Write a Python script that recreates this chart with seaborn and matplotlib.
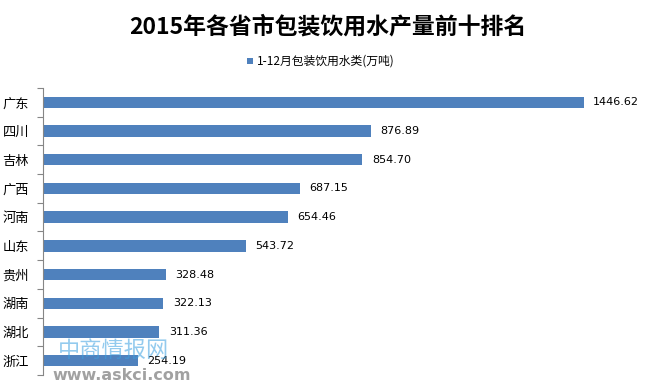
import matplotlib
matplotlib.use("Agg")
import matplotlib.pyplot as plt
import seaborn as sns
import pandas as pd

provinces = ["广东", "四川", "吉林", "广西", "河南", "山东", "贵州", "湖南", "湖北", "浙江"]
values = [1446.62, 876.89, 854.70, 687.15, 654.46, 543.72, 328.48, 322.13, 311.36, 254.19]
series_name = "1-12月包装饮用水类(万吨)"
title = "2015年各省市包装饮用水产量前十排名"

sns.set_theme(style="white")
plt.rcParams['font.family'] = ['Noto Sans CJK SC', 'DejaVu Sans']
plt.rcParams['text.color'] = "#000000"

df = pd.DataFrame({"province": provinces, "value": values, "series": series_name})

fig = plt.figure(figsize=(6.56, 3.85), dpi=100)
ax = fig.add_axes([43/656, 1-375/385, (641-43)/656, (375-88)/385])

sns.barplot(data=df, y="province", x="value", hue="series", orient="h",
            palette=["#4F81BD"], saturation=1, width=0.4, linewidth=0,
            edgecolor="none", ax=ax, legend=False)

ax.set_xlim(0, 1600)
ax.set_ylim(len(provinces) - 0.5, -0.5)
ax.set_xlabel("")
ax.set_ylabel("")
ax.set_xticks([])
ax.set_yticks([i - 0.5 for i in range(len(provinces) + 1)], minor=False)
ax.set_yticklabels([])
ax.set_yticks(range(len(provinces)), minor=True)
ax.set_yticklabels(provinces, minor=True, fontsize=9.5, color="#000000")
ax.tick_params(axis="y", which="major", left=True, length=4, width=0.8, color="#868686")
ax.tick_params(axis="y", which="minor", left=False, length=0, pad=10)
for s in ["top", "right", "bottom"]:
    ax.spines[s].set_visible(False)
ax.spines["left"].set_color("#868686")
ax.spines["left"].set_linewidth(0.8)

for i, v in enumerate(values):
    ax.text(v + 25, i, f"{v:.2f}", va="center", ha="left", fontsize=8,
            family="DejaVu Sans", color="#000000")

fig.text(0.5, 1-27/385, title, ha="center", va="center", fontsize=16.5,
         fontweight="bold", color="#000000")
fig.patches.append(plt.Rectangle((247/656, 1-64/385), 6/656, 6/385, transform=fig.transFigure,
                                 facecolor="#4F81BD", edgecolor="none"))
fig.text(257/656, 1-61/385, series_name, ha="left", va="center", fontsize=8.5, color="#000000")

# watermark
fig.text(58/656, 1-350/385, "中商情报网", ha="left", va="center", fontsize=16,
         color="#3BA0E0", alpha=0.55)
fig.text(52/656, 1-375/385, "www.askci.com", ha="left", va="center", fontsize=11.5,
         family="DejaVu Sans", fontweight="bold", color="#555555", alpha=0.55)

fig.savefig("out.png", dpi=100)
